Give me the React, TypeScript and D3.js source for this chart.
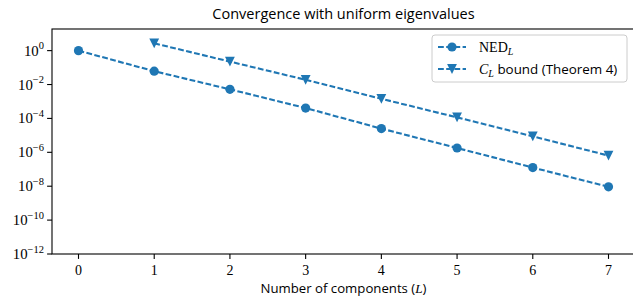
import * as d3 from 'd3'

// components L
const components = [0, 1, 2, 3, 4, 5, 6, 7]
const nedValues = [1, 0.061, 5.2e-3, 4.1e-4, 2.5e-5, 1.8e-6, 1.26e-7, 9.2e-9]
const boundComponents = [1, 2, 3, 4, 5, 6, 7]
const boundValues = [2.7, 0.225, 0.019, 1.44e-3, 1.15e-4, 8.7e-6, 6.4e-7]
const xTicks = [0, 1, 2, 3, 4, 5, 6, 7]
const yTickExps = [0, -2, -4, -6, -8, -10, -12]

const color = '#1f77b4'
const serif = '"Liberation Serif", "DejaVu Serif", serif'
const sans = '"Open Sans", "DejaVu Sans", sans-serif'

const App = () => {
    const width = 633
    const height = 304
    const margin = { top: 29, right: -2, bottom: 50, left: 52 }
    const x0 = margin.left
    const x1 = width - margin.right
    const y0 = margin.top
    const y1 = height - margin.bottom

    const x = d3.scaleLinear().domain([-0.35, 7.35]).range([x0, x1])
    const y = d3.scaleLog().domain([1e-12, Math.pow(10, 1.276)]).range([y1, y0])

    const line = d3.line<[number, number]>()
        .x(d => x(d[0]))
        .y(d => y(d[1]))

    const nedPts = components.map((c, i) => [c, nedValues[i]] as [number, number])
    const boundPts = boundComponents.map((c, i) => [c, boundValues[i]] as [number, number])

    const tri = (cx: number, cy: number, r: number) =>
        `M${cx},${cy + r}L${cx - r},${cy - r}L${cx + r},${cy - r}Z`

    const dash = '5.8,2.4'
    const legX = 432
    const legY = 35

    return (
        <svg width={width} height={height} style={{ display: 'block', position: 'absolute', left: 0, top: 0 }}>
            <rect width={width} height={height} fill="white" />
            <text x={(x0 + x1) / 2} y={19} textAnchor="middle" fontFamily={sans} fontSize={14.5} fill="#000">
                Convergence with uniform eigenvalues
            </text>

            <g>
                <path d={line(nedPts) || ''} fill="none" stroke={color} strokeWidth={2.1} strokeDasharray={dash} />
                {nedPts.map((d, i) => (
                    <circle key={i} cx={x(d[0])} cy={y(d[1])} r={4.6} fill={color} />
                ))}
                <path d={line(boundPts) || ''} fill="none" stroke={color} strokeWidth={2.1} strokeDasharray={dash} />
                {boundPts.map((d, i) => (
                    <path key={i} d={tri(x(d[0]), y(d[1]), 4.9)} fill={color} />
                ))}
            </g>

            {/* axes frame */}
            <rect x={x0} y={y0} width={x1 - x0} height={y1 - y0} fill="none" stroke="#000" strokeWidth={1.1} />

            {xTicks.map(t => (
                <g key={t} transform={`translate(${x(t)},${y1})`}>
                    <line y2={4.9} stroke="#000" strokeWidth={1.1} />
                    <text y={21} textAnchor="middle" fontFamily={serif} fontSize={14}>{t}</text>
                </g>
            ))}

            {yTickExps.map(e => (
                <g key={e} transform={`translate(${x0},${y(Math.pow(10, e))})`}>
                    <line x2={-4.9} stroke="#000" strokeWidth={1.1} />
                    <text x={-8} y={5} textAnchor="end" fontFamily={serif} fontSize={14.8}>
                        10<tspan dy={-6.5} fontSize={10.5}>{e === 0 ? '0' : '\u2212' + Math.abs(e)}</tspan>
                    </text>
                </g>
            ))}

            <text x={(x0 + x1) / 2} y={293} textAnchor="middle" fontFamily={sans} fontSize={13.2}>
                Number of components (<tspan fontFamily={serif} fontStyle="italic">L</tspan>)
            </text>

            {/* legend */}
            <rect x={legX} y={legY} width={195} height={47} rx={3} fill="white" fillOpacity={0.8} stroke="#ccc" strokeWidth={1} />
            <line x1={legX + 6} x2={legX + 34} y1={legY + 12} y2={legY + 12} stroke={color} strokeWidth={2.1} strokeDasharray={dash} />
            <circle cx={legX + 20} cy={legY + 12} r={4.6} fill={color} />
            <text x={legX + 47} y={legY + 17} fontFamily={serif} fontSize={14}>
                NED<tspan dy={3} fontSize={10} fontStyle="italic">L</tspan>
            </text>
            <line x1={legX + 6} x2={legX + 34} y1={legY + 34} y2={legY + 34} stroke={color} strokeWidth={2.1} strokeDasharray={dash} />
            <path d={tri(legX + 20, legY + 34, 4.9)} fill={color} />
            <text x={legX + 47} y={legY + 39} fontFamily={serif} fontSize={14}>
                <tspan fontStyle="italic">C</tspan><tspan dy={3} fontSize={10} fontStyle="italic">L</tspan>
                <tspan dy={-3} fontFamily={sans} fontSize={13.4}> bound (Theorem 4)</tspan>
            </text>
        </svg>
    )
}

export default App
